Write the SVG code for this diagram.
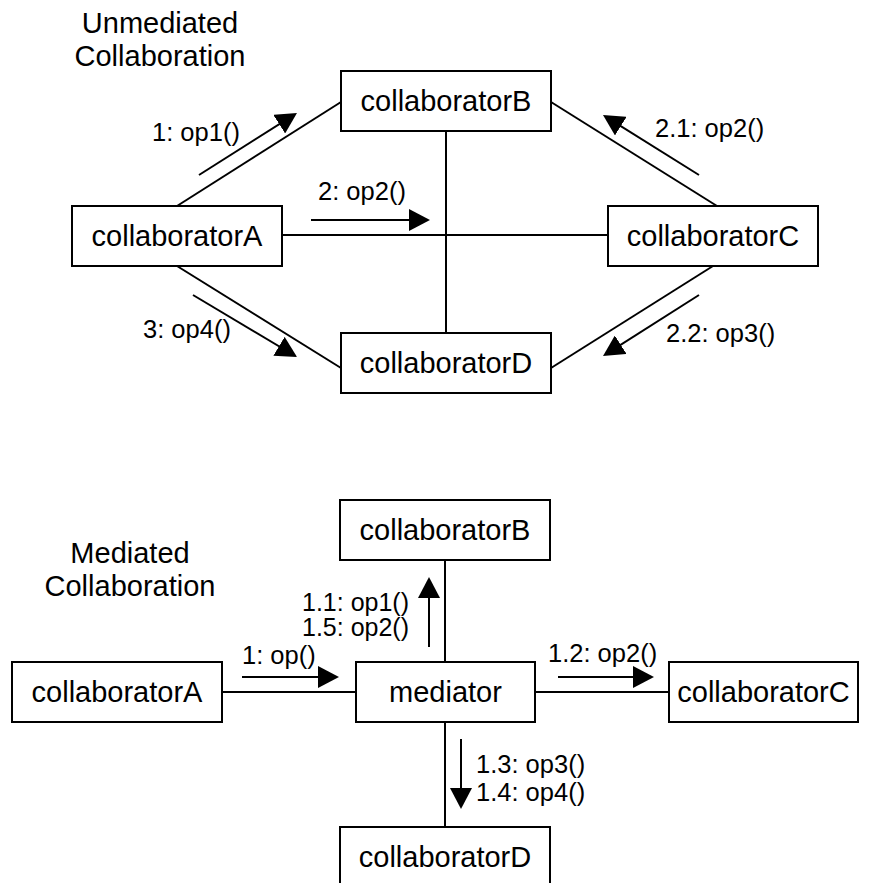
<svg xmlns="http://www.w3.org/2000/svg" width="869" height="883" viewBox="0 0 869 883">
<style>
.box{fill:#fff;stroke:#000;stroke-width:2}
.nt{font-family:"Liberation Sans",Arial,sans-serif;font-size:29px;text-anchor:middle;fill:#000}
.lb{font-family:"Liberation Sans",Arial,sans-serif;font-size:25.5px;fill:#000}
.ln{stroke:#000;stroke-width:2;fill:none}
.ar{stroke:#000;stroke-width:2;fill:none;marker-end:url(#ah)}
</style>
<defs>
<marker id="ah" markerUnits="userSpaceOnUse" viewBox="0 0 21 22" refX="17" refY="11" markerWidth="21" markerHeight="22" orient="auto">
<path d="M0,0 L21,11 L0,22 z" fill="#000"/>
</marker>
</defs>
<rect width="869" height="883" fill="#fff"/>
<g id="titles">
<text class="nt" x="160" y="33">Unmediated</text>
<text class="nt" x="160" y="66">Collaboration</text>
<text class="nt" x="130" y="563">Mediated</text>
<text class="nt" x="130" y="596">Collaboration</text>
</g>
<g id="connectors">
<line class="ln" x1="177" y1="206" x2="341" y2="102"/>
<line class="ln" x1="551" y1="102" x2="717" y2="206"/>
<line class="ln" x1="713" y1="266" x2="551" y2="368"/>
<line class="ln" x1="177" y1="266" x2="341" y2="368"/>
<line class="ln" x1="446" y1="131" x2="446" y2="333"/>
<line class="ln" x1="282" y1="235" x2="608" y2="235"/>
<line class="ar" x1="199" y1="175" x2="293.6" y2="115.1"/>
<line class="ar" x1="311" y1="220" x2="426" y2="220"/>
<line class="ar" x1="699" y1="175" x2="606.4" y2="117.1"/>
<line class="ar" x1="699" y1="295" x2="606.4" y2="353.9"/>
<line class="ar" x1="193" y1="295" x2="293.6" y2="355"/>
<line class="ln" x1="445" y1="560" x2="445" y2="662"/>
<line class="ln" x1="445" y1="722" x2="445" y2="827"/>
<line class="ln" x1="222" y1="692" x2="356" y2="692"/>
<line class="ln" x1="535" y1="692" x2="669" y2="692"/>
<line class="ar" x1="242" y1="677" x2="335" y2="677"/>
<line class="ar" x1="558" y1="677" x2="650" y2="677"/>
<line class="ar" x1="429" y1="647" x2="429" y2="581"/>
<line class="ar" x1="461" y1="739" x2="461" y2="805"/>
<text class="lb" x="152" y="141">1: op1()</text>
<text class="lb" x="318" y="200">2: op2()</text>
<text class="lb" x="655" y="137">2.1: op2()</text>
<text class="lb" x="666" y="342">2.2: op3()</text>
<text class="lb" x="143" y="338">3: op4()</text>
<text class="lb" x="242" y="664">1: op()</text>
<text class="lb" x="302" y="610.5" style="font-size:25px">1.1: op1()</text>
<text class="lb" x="302" y="636" style="font-size:25px">1.5: op2()</text>
<text class="lb" x="548" y="662">1.2: op2()</text>
<text class="lb" x="476" y="773">1.3: op3()</text>
<text class="lb" x="476" y="801">1.4: op4()</text>
</g>
<g id="u_collaboratorA"><rect class="box" x="72" y="206" width="210" height="60"/><text class="nt" x="177" y="246">collaboratorA</text></g>
<g id="u_collaboratorB"><rect class="box" x="341" y="71" width="210" height="60"/><text class="nt" x="446" y="111">collaboratorB</text></g>
<g id="u_collaboratorC"><rect class="box" x="608" y="206" width="210" height="60"/><text class="nt" x="713" y="246">collaboratorC</text></g>
<g id="u_collaboratorD"><rect class="box" x="341" y="333" width="210" height="60"/><text class="nt" x="446" y="373">collaboratorD</text></g>
<g id="m_collaboratorB"><rect class="box" x="340" y="500" width="210" height="60"/><text class="nt" x="445" y="540">collaboratorB</text></g>
<g id="m_collaboratorA"><rect class="box" x="12" y="662" width="210" height="60"/><text class="nt" x="117" y="702">collaboratorA</text></g>
<g id="m_mediator"><rect class="box" x="356" y="662" width="179" height="60"/><text class="nt" x="445.5" y="702">mediator</text></g>
<g id="m_collaboratorC"><rect class="box" x="669" y="662" width="189" height="60"/><text class="nt" x="763.5" y="702">collaboratorC</text></g>
<g id="m_collaboratorD"><rect class="box" x="340" y="827" width="210" height="70"/><text class="nt" x="445" y="867">collaboratorD</text></g>
</svg>
